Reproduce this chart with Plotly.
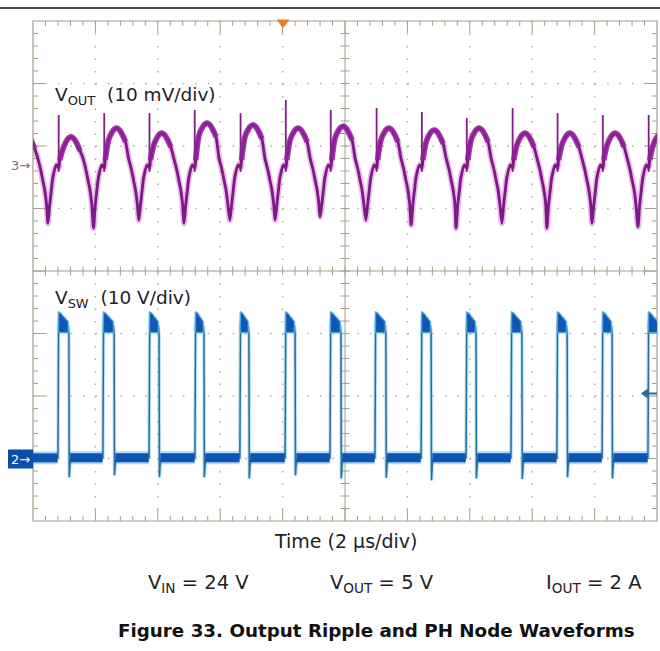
import plotly.graph_objects as go

# ---------------- data ----------------
# Horizontal: 10 div x 2 us/div  ->  0 .. 20 us
T_RANGE = [0.0, 20.0]

# VOUT (channel 3, 10 mV/div): one entry per ripple cycle
vout_dip_t = [-0.97, 0.48, 1.94, 3.39, 4.84, 6.31, 7.76, 9.20, 10.67,
              12.12, 13.56, 15.03, 16.47, 17.92, 19.39]            # us
vout_dip_mv = [-9.0, -9.3, -10.1, -8.8, -9.3, -8.8, -8.8, -8.3, -8.8,
               -9.6, -10.1, -9.3, -10.1, -9.3, -9.9]               # mV
vout_peak_mv = [4.8, 4.5, 5.9, 5.1, 6.7, 6.4, 5.9, 6.2, 5.9,
                5.6, 5.9, 5.1, 5.1, 5.1, 5.0]                      # mV
vout_spike_mv = [8.0, 8.0, 8.3, 8.3, 8.8, 8.3, 10.4, 8.8, 9.1,
                 8.5, 7.5, 9.1, 8.3, 8.0, 8.0]                     # mV
VOUT_SPIKE_DT = 0.343     # us after the dip (coincides with the VSW rising edge)
VOUT_SPIKE_FOOT = -1.1    # mV, bottom of the spike
# shape of one ripple cycle, read from the first cycle:
# time after the dip (us), reference ("dip"/"abs"/"peak") and value (mV)
vout_shape_dt = [0.0, 0.054, 0.109, 0.160, 0.269, 0.343, 0.375, 0.481, 0.577,
                 0.673, 0.750, 0.833, 0.929, 1.026, 1.122, 1.218, 1.282, 1.346, 1.401]
vout_shape_ref = ["dip", "abs", "abs", "abs", "abs", "abs", "abs", "peak", "peak",
                  "peak", "peak", "peak", "peak", "peak", "abs", "abs", "abs", "abs", "abs"]
vout_shape_mv = [0.0, -6.4, -4.0, -1.9, 0.0, -0.5, 0.8, -1.9, -0.8,
                 -0.15, 0.0, -0.3, -1.1, -2.2, 1.1, -0.8, -2.4, -4.0, -6.1]

# VSW (channel 2, 10 V/div): switching edges
vsw_rise_t = [0.80, 2.24, 3.72, 5.19, 6.63, 8.08, 9.52, 10.96, 12.44,
              13.88, 15.32, 16.79, 18.24, 19.71]                   # us
vsw_fall_t = [1.15, 2.60, 4.04, 5.48, 6.92, 8.40, 9.87, 11.31, 12.76,
              14.20, 15.67, 17.12, 18.56]                          # us
vsw_under_v = [-2.9, -2.6, -2.9, -2.9, -3.1, -2.6, -3.1, -3.0, -3.4,
               -3.1, -3.2, -2.9, -3.1]                             # V
VSW_LOW = 0.2          # V
VSW_HIGH_START = 22.6  # V
VSW_HIGH_END = 21.2    # V
VSW_OVERSHOOT = 23.4   # V
# noise envelope of the on-state (V): top at start / top at end / bottom
VSW_HIGH_ENV = [23.6, 22.0, 20.2]

# vertical scales (8 div): channel ground markers
VOUT_RANGE = [-56.96, 23.04]   # mV  (marker "3")
VSW_RANGE = [-9.9, 70.1]       # V   (marker "2")

# ---------------- build traces ----------------
vout_t, vout_v = [], []
cap_t, cap_v = [], []
spk_t, spk_v = [], []
for k, t0 in enumerate(vout_dip_t):
    base = {"dip": vout_dip_mv[k], "abs": 0.0, "peak": vout_peak_mv[k]}
    for dt, ref, mv in zip(vout_shape_dt, vout_shape_ref, vout_shape_mv):
        v = base[ref] + mv
        vout_t.append(t0 + dt)
        vout_v.append(v)
        if ref == "peak" or dt == 0.375:
            cap_t.append(t0 + dt)
            cap_v.append(v)
    cap_t.append(None)
    cap_v.append(None)
    ts = t0 + VOUT_SPIKE_DT
    spk_t += [ts, ts, None]
    spk_v += [VOUT_SPIKE_FOOT, vout_spike_mv[k], None]

vsw_t, vsw_v = [T_RANGE[0]], [VSW_LOW]
band_t, band_v = [], []
blob_t, blob_v = [], []
prev_end = T_RANGE[0]
for k, tr in enumerate(vsw_rise_t):
    band_t += [prev_end, tr - 0.01, None]
    band_v += [VSW_LOW, VSW_LOW, None]
    vsw_t += [tr, tr + 0.02, tr + 0.05, tr + 0.12]
    vsw_v += [VSW_LOW, 21.5, VSW_OVERSHOOT, VSW_HIGH_START - 0.3]
    tf = vsw_fall_t[k] if k < len(vsw_fall_t) else T_RANGE[1] + 0.05
    a, b = tr + 0.015, tf - 0.02
    blob_t += [a, a, tr + 0.1, b, b, a, None]
    blob_v += [VSW_HIGH_ENV[2], VSW_HIGH_ENV[0], VSW_HIGH_ENV[0] - 0.3,
               VSW_HIGH_ENV[1], VSW_HIGH_ENV[2], VSW_HIGH_ENV[2], None]
    if k < len(vsw_fall_t):
        vsw_t += [tf - 0.02, tf, tf + 0.012, tf + 0.045]
        vsw_v += [VSW_HIGH_END, 20.0, vsw_under_v[k], VSW_LOW - 0.4]
        prev_end = tf + 0.04
    else:
        vsw_t += [T_RANGE[1]]
        vsw_v += [VSW_HIGH_START - 0.4]

fig = go.Figure()
# VSW
fig.add_trace(go.Scatter(x=band_t, y=band_v, yaxis="y2", mode="lines",
                         line=dict(color="rgba(90,175,235,0.5)", width=13),
                         hoverinfo="skip", showlegend=False))
fig.add_trace(go.Scatter(x=vsw_t, y=vsw_v, yaxis="y2", mode="lines",
                         line=dict(color="rgba(120,200,240,0.55)", width=3.5),
                         hoverinfo="skip", showlegend=False))
fig.add_trace(go.Scatter(x=vsw_t, y=vsw_v, yaxis="y2", mode="lines",
                         line=dict(color="#2C6C98", width=1.5),
                         hoverinfo="skip", showlegend=False))
fig.add_trace(go.Scatter(x=band_t, y=band_v, yaxis="y2", mode="lines",
                         line=dict(color="#0B55B0", width=9),
                         hoverinfo="skip", showlegend=False))
fig.add_trace(go.Scatter(x=blob_t, y=blob_v, yaxis="y2", mode="lines", fill="toself",
                         fillcolor="#1058B4",
                         line=dict(color="rgba(90,175,235,0.8)", width=1.5),
                         hoverinfo="skip", showlegend=False))
# VOUT
fig.add_trace(go.Scatter(x=vout_t, y=vout_v, mode="lines",
                         line=dict(color="rgba(205,80,215,0.4)", width=6, shape="spline",
                                   smoothing=0.8),
                         hoverinfo="skip", showlegend=False))
fig.add_trace(go.Scatter(x=spk_t, y=spk_v, mode="lines",
                         line=dict(color="#7E1E86", width=1.8),
                         hoverinfo="skip", showlegend=False))
fig.add_trace(go.Scatter(x=vout_t, y=vout_v, mode="lines",
                         line=dict(color="#7A1A82", width=2.8, shape="spline", smoothing=0.8),
                         hoverinfo="skip", showlegend=False))
fig.add_trace(go.Scatter(x=cap_t, y=cap_v, mode="lines",
                         line=dict(color="rgba(145,32,155,0.85)", width=5.5, shape="spline",
                                   smoothing=0.8),
                         hoverinfo="skip", showlegend=False))

# ---------------- graticule (layout only) ----------------
W, H = 660, 651
X0, X1, Y0, Y1 = 33.0, 657.0, 21.0, 521.0
DW, DH = (X1 - X0) / 10, (Y1 - Y0) / 8
G = "#A59E8A"
DOT = "#B9B2A0"


def px(x):
    return (x - X0) / (X1 - X0)


def py(y):
    return (Y1 - y) / (Y1 - Y0)


shapes = []


def seg(xa, ya, xb, yb, color=G, width=1, dash="solid", layer="below"):
    shapes.append(dict(type="line", xref="paper", yref="paper",
                       x0=px(xa), y0=py(ya), x1=px(xb), y1=py(yb),
                       line=dict(color=color, width=width, dash=dash), layer=layer))


# dotted division lines
for i in range(1, 10):
    if i != 5:
        seg(X0 + i * DW, Y0, X0 + i * DW, Y1, DOT, 1.6, "1.6px,10.9px")
for j in range(1, 8):
    if j != 4:
        seg(X0, Y0 + j * DH, X1, Y0 + j * DH, DOT, 1.6, "1.6px,10.88px")
# centre cross
XC, YC = X0 + 5 * DW, Y0 + 4 * DH
seg(XC, Y0, XC, Y1)
seg(X0, YC, X1, YC)
# ticks
for i in range(1, 50):
    x = X0 + i * DW / 5
    L = 12 if i % 5 == 0 else 5
    seg(x, Y0, x, Y0 + L)
    seg(x, Y1, x, Y1 - L)
    seg(x, YC - 4.5, x, YC + 4.5)
for j in range(1, 40):
    y = Y0 + j * DH / 5
    L = 12 if j % 5 == 0 else 5
    seg(X0, y, X0 + L, y)
    seg(X1, y, X1 - L, y)
    seg(XC - 4.5, y, XC + 4.5, y)
# border
shapes.append(dict(type="rect", xref="paper", yref="paper", x0=0, y0=0, x1=1, y1=1,
                   line=dict(color=G, width=1.2), layer="below"))
# top page rule
seg(0, 8, W, 8, "#111111", 1.5, layer="above")


def path(points):
    return "M " + " L ".join(f"{px(a):.5f},{py(b):.5f}" for a, b in points) + " Z"


# trigger position marker (orange)
shapes.append(dict(type="path", xref="paper", yref="paper",
                   path=path([(277.5, 20), (289, 20), (283, 27.5)]),
                   fillcolor="#F27A1E", line=dict(color="#F27A1E", width=1), layer="above"))
# trigger level arrow (right)
shapes.append(dict(type="path", xref="paper", yref="paper",
                   path=path([(641.5, 393.5), (648, 389), (648, 398)]),
                   fillcolor="#2C6AA0", line=dict(color="#2C6AA0", width=1), layer="above"))
seg(647, 393.5, 657, 393.5, "#2C6AA0", 2, layer="above")
# channel 2 marker box
shapes.append(dict(type="rect", xref="paper", yref="paper",
                   x0=px(8), x1=px(33), y0=py(468.5), y1=py(449.5),
                   fillcolor="#0C4EA8", line=dict(width=0), layer="above"))

FONT = "DejaVu Sans, Liberation Sans, Arial, sans-serif"
ann = []


def text(s, x, y, size, color="#222222", xanchor="left", bold=False):
    ann.append(dict(text=f"<b>{s}</b>" if bold else s, x=px(x), y=py(y),
                    xref="paper", yref="paper", xanchor=xanchor, yanchor="middle",
                    showarrow=False, font=dict(family=FONT, size=size, color=color)))


NB = "\u00a0"
text(f"V<sub>OUT</sub>{NB}{NB}(10 mV/div)", 53, 96, 18.5)
text(f"V<sub>SW</sub>{NB}{NB}(10 V/div)", 53, 299, 18.5)
text("3\u2192", 9, 165, 13, "#84608A")
text("2\u2192", 9, 459, 13, "#FFFFFF")
text("Time (2 \u00b5s/div)", 345, 541, 19, xanchor="center")
text(f"V<sub>IN</sub> = 24 V", 146, 583, 19.5)
text(f"V<sub>OUT</sub> = 5 V", 328, 583, 19.5)
text(f"I<sub>OUT</sub> = 2 A", 544, 583, 19.5)
text("Figure 33. Output Ripple and PH Node Waveforms", 376, 630, 18.3,
     "#111111", xanchor="center", bold=True)

fig.update_layout(
    width=W, height=H,
    margin=dict(l=X0, r=W - X1, t=Y0, b=H - Y1, pad=0),
    paper_bgcolor="white", plot_bgcolor="white",
    xaxis=dict(range=T_RANGE, visible=False, fixedrange=True),
    yaxis=dict(range=VOUT_RANGE, visible=False, fixedrange=True),
    yaxis2=dict(range=VSW_RANGE, visible=False, overlaying="y", fixedrange=True),
    shapes=shapes, annotations=ann, showlegend=False,
)
fig.write_html("out.html", config={"displayModeBar": False, "staticPlot": True},
               post_script="document.body.style.margin='0';document.body.style.overflow='hidden';")
